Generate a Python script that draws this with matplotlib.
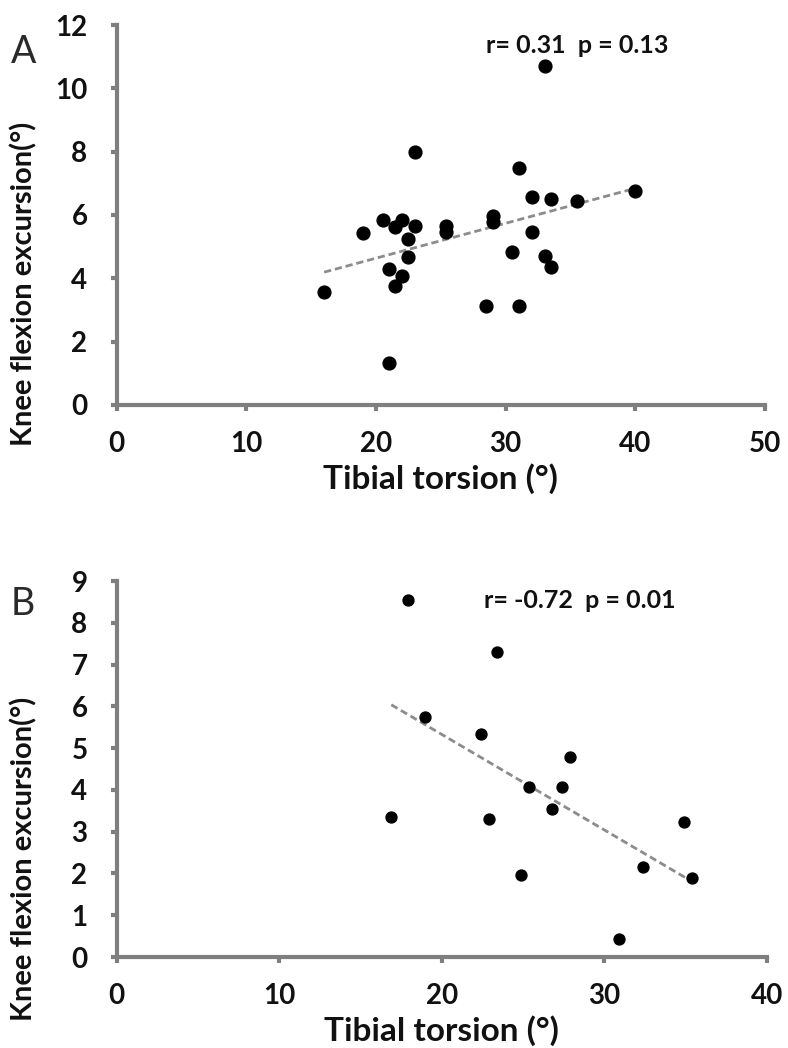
import numpy as np
import matplotlib
matplotlib.use('Agg')
import matplotlib.pyplot as plt

plt.rcParams['font.family'] = ['Lato', 'DejaVu Sans']

# panel A: all subjects
torsion_a = [16.0, 19.0, 20.5, 21.0, 21.0, 21.5, 21.5, 22.0, 22.0, 22.5,
             22.5, 23.0, 23.0, 25.4, 25.4, 28.5, 29.0, 29.0, 30.5, 31.0,
             31.0, 32.0, 32.0, 33.0, 33.0, 33.5, 33.5, 35.5, 40.0]
knee_a = [3.56, 5.42, 5.84, 4.28, 1.34, 3.76, 5.63, 5.84, 4.07, 5.24,
          4.68, 5.65, 8.0, 5.65, 5.47, 3.14, 5.97, 5.79, 4.84, 7.47,
          3.13, 6.58, 5.45, 10.7, 4.7, 6.5, 4.37, 6.44, 6.77]

# panel B: subgroup
torsion_b = [17.9, 23.4, 19.0, 22.4, 27.9, 25.4, 27.4, 26.8, 16.9, 22.9,
             34.9, 24.9, 32.4, 35.4, 30.9]
knee_b = [8.54, 7.30, 5.74, 5.34, 4.78, 4.06, 4.06, 3.54, 3.36, 3.30,
          3.24, 1.96, 2.16, 1.90, 0.43]

stats_a = 'r= 0.31  p = 0.13'
stats_b = 'r= -0.72  p = 0.01'

axis_grey = '#7f7f7f'
ink = '#111111'


def style_axes(ax, xmax, ymax, ystep, ylabel_y):
    for side in ['top', 'right']:
        ax.spines[side].set_visible(False)
    for side in ['left', 'bottom']:
        ax.spines[side].set_color(axis_grey)
        ax.spines[side].set_linewidth(3.0)
    ax.set_xlim(0, xmax)
    ax.set_ylim(0, ymax)
    ax.set_xticks(np.arange(0, xmax + 1, 10))
    ax.set_yticks(np.arange(0, ymax + 0.01, ystep))
    ax.tick_params(direction='out', length=4, width=3, color=axis_grey,
                   labelsize=20, labelcolor=ink)
    ax.tick_params(axis='x', pad=15)
    ax.tick_params(axis='y', pad=17)
    for lab in ax.get_xticklabels() + ax.get_yticklabels():
        lab.set_fontweight('bold')
    ax.set_xlabel('Tibial torsion (°)', fontsize=24, fontweight='bold',
                  labelpad=4, color=ink)
    ax.set_ylabel('Knee flexion excursion(°)', fontsize=21, fontweight='bold',
                  color=ink)
    # label sits just right of the panel letter, below the axis middle
    ax.yaxis.set_label_coords(-0.122, ylabel_y)


def plot_panel(ax, x, y, size, stats, letter, text_xy, letter_y):
    x = np.array(x)
    y = np.array(y)
    ax.scatter(x, y, s=size, color='black', zorder=3, clip_on=False)
    slope, intercept = np.polyfit(x, y, 1)
    xs = np.array([x.min(), x.max()])
    ax.plot(xs, slope * xs + intercept, color='#8c8c8c', lw=2.0,
            dashes=(2.6, 1.4), zorder=2)
    ax.text(text_xy[0], text_xy[1], stats, transform=ax.transAxes,
            fontsize=18, fontweight='bold', va='center', ha='left', color=ink)
    ax.text(-0.163, letter_y, letter, transform=ax.transAxes, fontsize=27,
            fontweight='normal', va='center', ha='left', color='#2a2a2a')


fig = plt.figure(figsize=(7.88, 10.48), dpi=100)
ax_a = fig.add_axes([0.148, 0.6136, 0.823, 0.3625])
ax_b = fig.add_axes([0.148, 0.0868, 0.825, 0.3588])

style_axes(ax_a, 50, 12, 2, 0.32)
plot_panel(ax_a, torsion_a, knee_a, 85, stats_a, 'A', (0.570, 0.945), 0.929)

style_axes(ax_b, 40, 9, 1, 0.26)
plot_panel(ax_b, torsion_b, knee_b, 62, stats_b, 'B', (0.565, 0.947), 0.939)

fig.savefig('out.png', dpi=100)
